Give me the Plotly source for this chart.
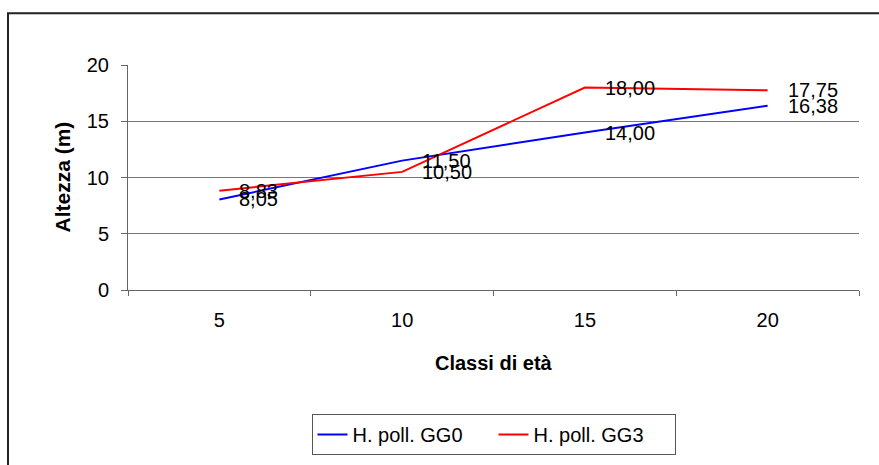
import plotly.graph_objects as go

# Age classes and mean heights for the two treatments
classi = ["5", "10", "15", "20"]
h_gg0 = [8.05, 11.50, 14.00, 16.38]
h_gg3 = [8.83, 10.50, 18.00, 17.75]
y_ticks = [0, 5, 10, 15, 20]

W, H = 879, 465
ML, MR, MT, MB = 128, 20, 65, 174
PW, PH = W - ML - MR, H - MT - MB

FONT = "Liberation Sans, Arial, sans-serif"


def fmt(v):
    return f"{v:.2f}".replace(".", ",")


fig = go.Figure()
fig.add_trace(go.Scatter(x=classi, y=h_gg0, mode="lines", name="H. poll. GG0",
                         line=dict(color="#0000FF", width=2)))
fig.add_trace(go.Scatter(x=classi, y=h_gg3, mode="lines", name="H. poll. GG3",
                         line=dict(color="#FF0000", width=2)))

annotations = []
for serie in (h_gg0, h_gg3):
    for i, v in enumerate(serie):
        # category axes place annotations by category index
        annotations.append(dict(x=i, y=v, xref="x", yref="y", text=fmt(v),
                                showarrow=False, xanchor="left", yanchor="middle",
                                xshift=18, font=dict(family=FONT, size=20, color="#000")))

# axis titles
annotations.append(dict(x=0.5, y=0, xref="paper", yref="paper", text="<b>Classi di età</b>",
                        showarrow=False, xanchor="center", yanchor="middle", yshift=-73,
                        font=dict(family=FONT, size=20, color="#000")))
annotations.append(dict(x=0, y=0.5, xref="paper", yref="paper", text="<b>Altezza (m)</b>",
                        showarrow=False, xanchor="center", yanchor="middle", xshift=-66,
                        textangle=-90, font=dict(family=FONT, size=21, color="#000")))

# outer frame of the chart area (open on the right/bottom edges of the page)
shapes = [dict(type="rect", xref="paper", yref="paper",
               x0=(8 - ML) / PW, x1=(W + 10 - ML) / PW,
               y0=(MT + PH - (H + 10)) / PH, y1=(MT + PH - 13) / PH,
               line=dict(color="#222", width=2), fillcolor="rgba(0,0,0,0)", layer="below")]

fig.update_layout(
    width=W, height=H,
    margin=dict(l=ML, r=MR, t=MT, b=MB),
    paper_bgcolor="white", plot_bgcolor="white",
    font=dict(family=FONT, size=20, color="#000"),
    annotations=annotations,
    shapes=shapes,
    showlegend=True,
    legend=dict(orientation="h", x=0.5, xanchor="center",
                y=(MT + PH - 414) / PH, yanchor="top",
                bordercolor="#555", borderwidth=1, bgcolor="white",
                font=dict(family=FONT, size=20, color="#000"),
                entrywidth=136, entrywidthmode="pixels", tracegroupgap=0),
    xaxis=dict(type="category", categoryorder="array", categoryarray=classi,
               range=[-0.5, 3.5], tickson="boundaries", ticks="outside", ticklen=5,
               tickcolor="#666", showline=True, linecolor="#666", linewidth=1,
               showgrid=False, zeroline=False, ticklabelstandoff=12,
               tickfont=dict(family=FONT, size=20, color="#000")),
    yaxis=dict(range=[0, 20], tickvals=y_ticks, ticks="outside", ticklen=6,
               tickcolor="#666", showline=True, linecolor="#666", linewidth=1,
               showgrid=True, gridcolor="#777", gridwidth=1, zeroline=False,
               ticklabelstandoff=8,
               tickfont=dict(family=FONT, size=20, color="#000")),
)

fig.write_html("out.html")
